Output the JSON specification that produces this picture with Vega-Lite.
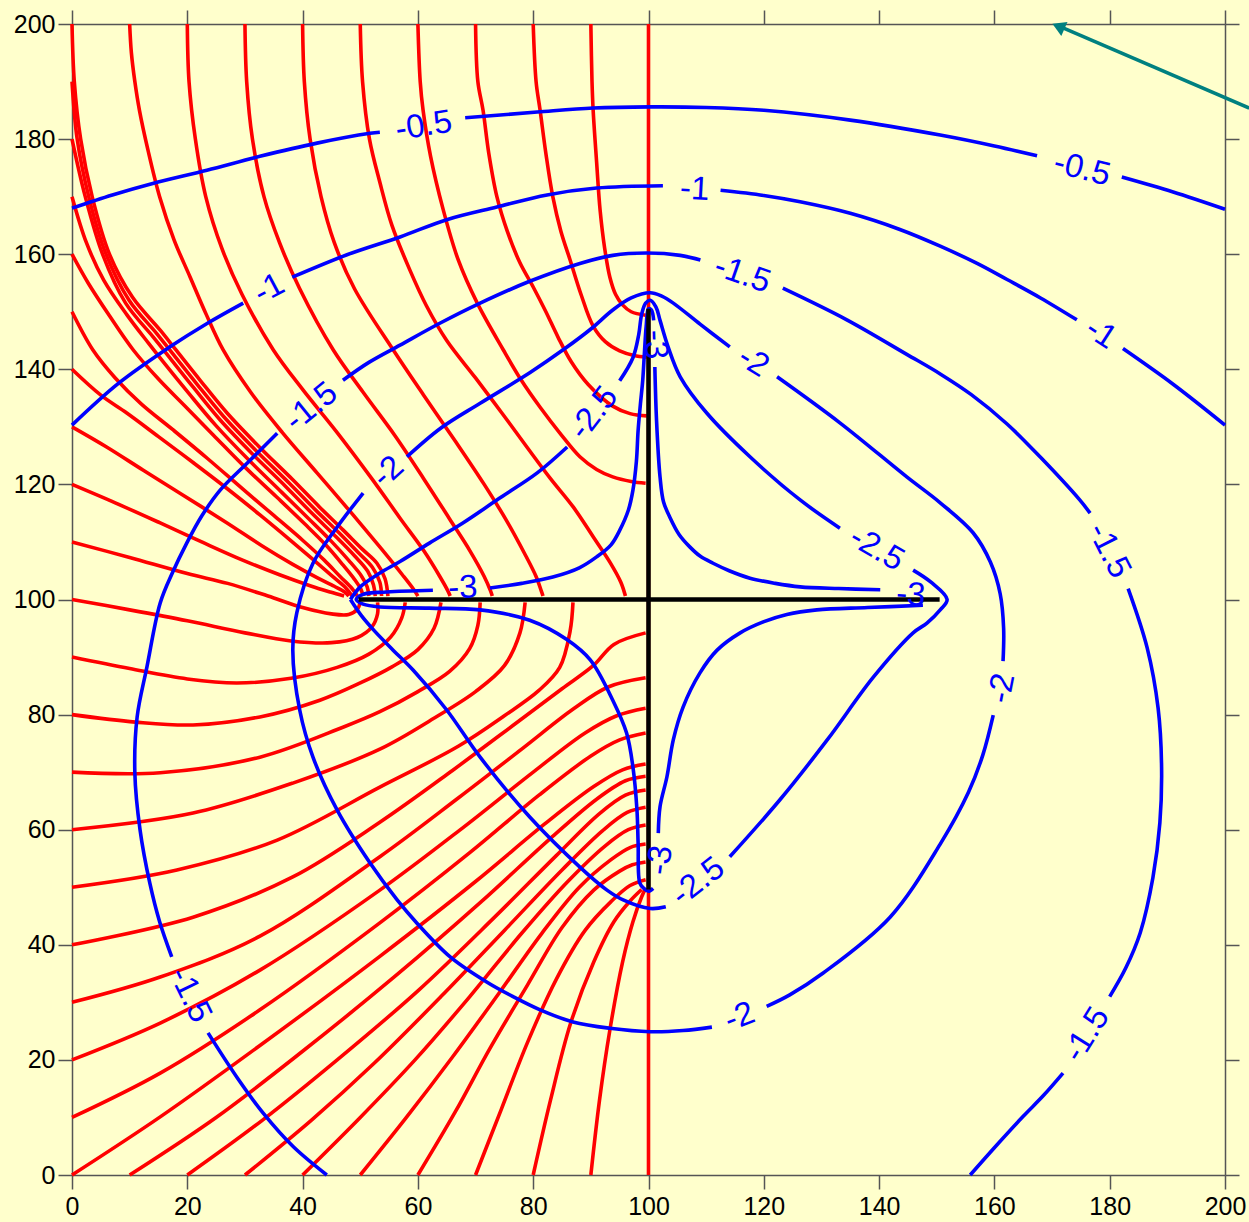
{
"$schema":"https://vega.github.io/schema/vega-lite/v6.json",
"width":1153,"height":1151,
"autosize":{"type":"none"},
"padding":{"left":72,"top":24,"right":24,"bottom":47},
"background":"#FFFFCC",
"config":{"view":{"stroke":null},"axis":{"domainColor":"#555555","domainWidth":1.5,"tickColor":"#555555","tickWidth":1.5,"tickSize":14,"labelFont":"Liberation Sans","labelFontSize":25,"labelColor":"#000000","grid":false}},
"datasets":{
"red":[
{"k":"v100","i":0,"x":100,"y":0},{"k":"v100","i":1,"x":100,"y":200},
{"k":"t0","i":0,"x":0,"y":200},{"k":"t0","i":1,"x":0.4,"y":190},{"k":"t0","i":2,"x":1.5,"y":180},{"k":"t0","i":3,"x":3.5,"y":170},{"k":"t0","i":4,"x":6.5,"y":160},{"k":"t0","i":5,"x":10.5,"y":152.5},{"k":"t0","i":6,"x":15.3,"y":146.8},{"k":"t0","i":7,"x":18,"y":143.4},{"k":"t0","i":8,"x":22.3,"y":138},{"k":"t0","i":9,"x":26.9,"y":132.4},{"k":"t0","i":10,"x":32.5,"y":126.5},{"k":"t0","i":11,"x":38.3,"y":120.8},{"k":"t0","i":12,"x":43,"y":116},{"k":"t0","i":13,"x":47,"y":112.1},{"k":"t0","i":14,"x":50.3,"y":108.8},{"k":"t0","i":15,"x":52.9,"y":106.3},{"k":"t0","i":16,"x":54.3,"y":103.6},{"k":"t0","i":17,"x":54.8,"y":100.6},
{"k":"l190","i":0,"x":0,"y":190},{"k":"l190","i":1,"x":0.9,"y":180},{"k":"l190","i":2,"x":2.9,"y":170},{"k":"l190","i":3,"x":5.9,"y":160},{"k":"l190","i":4,"x":9.9,"y":152},{"k":"l190","i":5,"x":14.7,"y":146.2},{"k":"l190","i":6,"x":17.4,"y":142.8},{"k":"l190","i":7,"x":21.7,"y":137.4},{"k":"l190","i":8,"x":26.3,"y":131.8},{"k":"l190","i":9,"x":31.9,"y":125.9},{"k":"l190","i":10,"x":37.7,"y":120.2},{"k":"l190","i":11,"x":42.4,"y":115.4},{"k":"l190","i":12,"x":46.4,"y":111.5},{"k":"l190","i":13,"x":49.6,"y":108.2},{"k":"l190","i":14,"x":52.1,"y":105.6},{"k":"l190","i":15,"x":53.4,"y":103},{"k":"l190","i":16,"x":53.7,"y":100.6},
{"k":"l180","i":0,"x":0,"y":180},{"k":"l180","i":1,"x":2.3,"y":170},{"k":"l180","i":2,"x":5.3,"y":160},{"k":"l180","i":3,"x":9.3,"y":151.5},{"k":"l180","i":4,"x":14.1,"y":145.6},{"k":"l180","i":5,"x":16.8,"y":142.2},{"k":"l180","i":6,"x":21.1,"y":136.8},{"k":"l180","i":7,"x":25.7,"y":131.2},{"k":"l180","i":8,"x":31.3,"y":125.3},{"k":"l180","i":9,"x":37.1,"y":119.6},{"k":"l180","i":10,"x":41.8,"y":114.8},{"k":"l180","i":11,"x":45.8,"y":110.9},{"k":"l180","i":12,"x":49,"y":107.6},{"k":"l180","i":13,"x":51.3,"y":104.9},{"k":"l180","i":14,"x":52.3,"y":102.5},{"k":"l180","i":15,"x":52.6,"y":100.6},
{"k":"l170","i":0,"x":0,"y":170},{"k":"l170","i":1,"x":2.5,"y":162},{"k":"l170","i":2,"x":5.5,"y":155.5},{"k":"l170","i":3,"x":9.5,"y":149.5},{"k":"l170","i":4,"x":13.3,"y":144.5},{"k":"l170","i":5,"x":15.9,"y":141.2},{"k":"l170","i":6,"x":20.2,"y":135.9},{"k":"l170","i":7,"x":24.9,"y":130.3},{"k":"l170","i":8,"x":30.5,"y":124.4},{"k":"l170","i":9,"x":36.3,"y":118.7},{"k":"l170","i":10,"x":41.1,"y":114},{"k":"l170","i":11,"x":45,"y":110.1},{"k":"l170","i":12,"x":48,"y":106.8},{"k":"l170","i":13,"x":50.2,"y":104.1},{"k":"l170","i":14,"x":51.2,"y":102.2},{"k":"l170","i":15,"x":51.5,"y":100.6},
{"k":"l160","i":0,"x":0,"y":160},{"k":"l160","i":1,"x":2.8,"y":155},{"k":"l160","i":2,"x":6.5,"y":149.3},{"k":"l160","i":3,"x":10.6,"y":143.4},{"k":"l160","i":4,"x":15,"y":138.3},{"k":"l160","i":5,"x":19.5,"y":133.7},{"k":"l160","i":6,"x":24.5,"y":128.6},{"k":"l160","i":7,"x":30,"y":123},{"k":"l160","i":8,"x":35.5,"y":117.8},{"k":"l160","i":9,"x":40.3,"y":113.2},{"k":"l160","i":10,"x":44,"y":109.5},{"k":"l160","i":11,"x":47,"y":106},{"k":"l160","i":12,"x":49,"y":103.5},{"k":"l160","i":13,"x":50.1,"y":101.8},{"k":"l160","i":14,"x":50.5,"y":100.6},
{"k":"l150","i":0,"x":0,"y":150},{"k":"l150","i":1,"x":3.6,"y":143.4},{"k":"l150","i":2,"x":7.5,"y":138.5},{"k":"l150","i":3,"x":12,"y":134},{"k":"l150","i":4,"x":17.5,"y":129.5},{"k":"l150","i":5,"x":23.5,"y":124.5},{"k":"l150","i":6,"x":29.5,"y":119.3},{"k":"l150","i":7,"x":35,"y":114.6},{"k":"l150","i":8,"x":40,"y":110.3},{"k":"l150","i":9,"x":43.8,"y":106.8},{"k":"l150","i":10,"x":46.5,"y":104},{"k":"l150","i":11,"x":48.5,"y":102},{"k":"l150","i":12,"x":49.5,"y":100.6},
{"k":"l140","i":0,"x":0,"y":140},{"k":"l140","i":1,"x":5,"y":135.5},{"k":"l140","i":2,"x":9.5,"y":132.4},{"k":"l140","i":3,"x":15,"y":128.3},{"k":"l140","i":4,"x":21,"y":123.8},{"k":"l140","i":5,"x":27,"y":119.2},{"k":"l140","i":6,"x":32.6,"y":114.7},{"k":"l140","i":7,"x":38,"y":110.2},{"k":"l140","i":8,"x":42,"y":106.8},{"k":"l140","i":9,"x":45.2,"y":104},{"k":"l140","i":10,"x":47.5,"y":102},{"k":"l140","i":11,"x":48.6,"y":100.6},
{"k":"l130","i":0,"x":0,"y":130},{"k":"l130","i":1,"x":6,"y":126.5},{"k":"l130","i":2,"x":12.3,"y":122.5},{"k":"l130","i":3,"x":19,"y":118.3},{"k":"l130","i":4,"x":26.9,"y":113.3},{"k":"l130","i":5,"x":33,"y":109.3},{"k":"l130","i":6,"x":38.3,"y":106.1},{"k":"l130","i":7,"x":42.5,"y":103.8},{"k":"l130","i":8,"x":45.5,"y":102.3},{"k":"l130","i":9,"x":47.3,"y":101.3},{"k":"l130","i":10,"x":48,"y":100.6},
{"k":"l120","i":0,"x":0,"y":120},{"k":"l120","i":1,"x":7.5,"y":116.8},{"k":"l120","i":2,"x":15.3,"y":113.3},{"k":"l120","i":3,"x":22.5,"y":110},{"k":"l120","i":4,"x":29.7,"y":106.8},{"k":"l120","i":5,"x":36,"y":104.3},{"k":"l120","i":6,"x":41.3,"y":102.4},{"k":"l120","i":7,"x":44.8,"y":101.3},{"k":"l120","i":8,"x":47.2,"y":100.6},
{"k":"l110","i":0,"x":0,"y":110},{"k":"l110","i":1,"x":10,"y":107.3},{"k":"l110","i":2,"x":20,"y":104.5},{"k":"l110","i":3,"x":27,"y":102.8},{"k":"l110","i":4,"x":34,"y":100.6},{"k":"l110","i":5,"x":40,"y":98.6},{"k":"l110","i":6,"x":45,"y":97.5},{"k":"l110","i":7,"x":48,"y":97.4},{"k":"l110","i":8,"x":49.5,"y":98.3},{"k":"l110","i":9,"x":50,"y":99.6},
{"k":"l100","i":0,"x":0,"y":100},{"k":"l100","i":1,"x":10,"y":98.2},{"k":"l100","i":2,"x":20,"y":96.3},{"k":"l100","i":3,"x":30,"y":94.2},{"k":"l100","i":4,"x":38,"y":92.8},{"k":"l100","i":5,"x":45,"y":92.5},{"k":"l100","i":6,"x":49.5,"y":93.4},{"k":"l100","i":7,"x":52,"y":95.2},{"k":"l100","i":8,"x":53,"y":97.5},{"k":"l100","i":9,"x":53,"y":99.5},
{"k":"l90","i":0,"x":0,"y":90},{"k":"l90","i":1,"x":10,"y":88},{"k":"l90","i":2,"x":20,"y":86.2},{"k":"l90","i":3,"x":28.6,"y":85.5},{"k":"l90","i":4,"x":38,"y":86.3},{"k":"l90","i":5,"x":46,"y":88.2},{"k":"l90","i":6,"x":51.5,"y":90.5},{"k":"l90","i":7,"x":55.3,"y":93.5},{"k":"l90","i":8,"x":57.2,"y":96.8},{"k":"l90","i":9,"x":57.8,"y":99.5},
{"k":"l80","i":0,"x":0,"y":80},{"k":"l80","i":1,"x":11,"y":78.7},{"k":"l80","i":2,"x":21,"y":78.2},{"k":"l80","i":3,"x":32.6,"y":79.6},{"k":"l80","i":4,"x":43,"y":82.5},{"k":"l80","i":5,"x":50,"y":85.5},{"k":"l80","i":6,"x":55.5,"y":88.3},{"k":"l80","i":7,"x":60,"y":91.3},{"k":"l80","i":8,"x":62.8,"y":95},{"k":"l80","i":9,"x":64,"y":99.5},
{"k":"l70","i":0,"x":0,"y":70},{"k":"l70","i":1,"x":15.3,"y":69.9},{"k":"l70","i":2,"x":32.6,"y":72.6},{"k":"l70","i":3,"x":47,"y":77.8},{"k":"l70","i":4,"x":53.4,"y":80.5},{"k":"l70","i":5,"x":60,"y":84},{"k":"l70","i":6,"x":65.5,"y":87.5},{"k":"l70","i":7,"x":69,"y":91.5},{"k":"l70","i":8,"x":70.4,"y":95.5},{"k":"l70","i":9,"x":70.8,"y":99.5},
{"k":"l60","i":0,"x":0,"y":60},{"k":"l60","i":1,"x":21,"y":62.9},{"k":"l60","i":2,"x":38.3,"y":68.1},{"k":"l60","i":3,"x":53.4,"y":74},{"k":"l60","i":4,"x":63,"y":79.5},{"k":"l60","i":5,"x":70,"y":84},{"k":"l60","i":6,"x":75,"y":88.5},{"k":"l60","i":7,"x":77.7,"y":94.2},{"k":"l60","i":8,"x":78.6,"y":99.5},
{"k":"l50","i":0,"x":0,"y":50},{"k":"l50","i":1,"x":18.2,"y":53},{"k":"l50","i":2,"x":35.6,"y":58.2},{"k":"l50","i":3,"x":53.4,"y":67.4},{"k":"l50","i":4,"x":67,"y":74.5},{"k":"l50","i":5,"x":75,"y":79.8},{"k":"l50","i":6,"x":81,"y":84.2},{"k":"l50","i":7,"x":84.6,"y":88.2},{"k":"l50","i":8,"x":86.4,"y":94.5},{"k":"l50","i":9,"x":86.9,"y":99.5},
{"k":"l40","i":0,"x":0,"y":40},{"k":"l40","i":1,"x":21,"y":44.8},{"k":"l40","i":2,"x":38.3,"y":51.8},{"k":"l40","i":3,"x":53.4,"y":61.3},{"k":"l40","i":4,"x":66,"y":70.3},{"k":"l40","i":5,"x":77,"y":78.5},{"k":"l40","i":6,"x":85,"y":84.5},{"k":"l40","i":7,"x":90.4,"y":88.5},{"k":"l40","i":8,"x":94,"y":92.2},{"k":"l40","i":9,"x":99.5,"y":94.2},
{"k":"l30","i":0,"x":0,"y":30},{"k":"l30","i":1,"x":15.3,"y":34.4},{"k":"l30","i":2,"x":32.6,"y":41.5},{"k":"l30","i":3,"x":53.4,"y":55.3},{"k":"l30","i":4,"x":67,"y":65.5},{"k":"l30","i":5,"x":78,"y":74},{"k":"l30","i":6,"x":87,"y":81},{"k":"l30","i":7,"x":93,"y":84.8},{"k":"l30","i":8,"x":99.5,"y":86.4},
{"k":"l20","i":0,"x":0,"y":20},{"k":"l20","i":1,"x":15.3,"y":26.4},{"k":"l20","i":2,"x":32.6,"y":35.6},{"k":"l20","i":3,"x":53.4,"y":49.5},{"k":"l20","i":4,"x":68,"y":60.5},{"k":"l20","i":5,"x":80,"y":70},{"k":"l20","i":6,"x":89,"y":76.8},{"k":"l20","i":7,"x":94.5,"y":79.8},{"k":"l20","i":8,"x":99.5,"y":81.1},
{"k":"l10","i":0,"x":0,"y":10},{"k":"l10","i":1,"x":15.3,"y":17.7},{"k":"l10","i":2,"x":32.6,"y":28.7},{"k":"l10","i":3,"x":53.4,"y":43.8},{"k":"l10","i":4,"x":69,"y":56},{"k":"l10","i":5,"x":81,"y":66},{"k":"l10","i":6,"x":90,"y":72.8},{"k":"l10","i":7,"x":95,"y":75.6},{"k":"l10","i":8,"x":99.5,"y":76.8},
{"k":"l0","i":0,"x":0,"y":0},{"k":"l0","i":1,"x":15.3,"y":10.1},{"k":"l0","i":2,"x":32.6,"y":22.5},{"k":"l0","i":3,"x":53.4,"y":38},{"k":"l0","i":4,"x":70,"y":51},{"k":"l0","i":5,"x":82,"y":61},{"k":"l0","i":6,"x":90.5,"y":67.5},{"k":"l0","i":7,"x":95.5,"y":70.4},{"k":"l0","i":8,"x":99.5,"y":71.4},
{"k":"b10","i":0,"x":10,"y":0},{"k":"b10","i":1,"x":25,"y":10},{"k":"b10","i":2,"x":40,"y":21.5},{"k":"b10","i":3,"x":56,"y":34.5},{"k":"b10","i":4,"x":71,"y":47.5},{"k":"b10","i":5,"x":83,"y":58.5},{"k":"b10","i":6,"x":91,"y":65.3},{"k":"b10","i":7,"x":96,"y":68.5},{"k":"b10","i":8,"x":99.5,"y":69.3},
{"k":"b20","i":0,"x":20,"y":0},{"k":"b20","i":1,"x":33,"y":9.5},{"k":"b20","i":2,"x":46,"y":20},{"k":"b20","i":3,"x":60,"y":32},{"k":"b20","i":4,"x":73,"y":44.5},{"k":"b20","i":5,"x":84,"y":55.5},{"k":"b20","i":6,"x":91.5,"y":62.8},{"k":"b20","i":7,"x":96,"y":66},{"k":"b20","i":8,"x":99.5,"y":66.9},
{"k":"b30","i":0,"x":30,"y":0},{"k":"b30","i":1,"x":41.5,"y":9.5},{"k":"b30","i":2,"x":52.5,"y":19.5},{"k":"b30","i":3,"x":64,"y":31},{"k":"b30","i":4,"x":75,"y":42.5},{"k":"b30","i":5,"x":85,"y":53},{"k":"b30","i":6,"x":92,"y":59.8},{"k":"b30","i":7,"x":96.3,"y":63},{"k":"b30","i":8,"x":99.5,"y":63.9},
{"k":"b40","i":0,"x":40,"y":0},{"k":"b40","i":1,"x":50,"y":10},{"k":"b40","i":2,"x":59.5,"y":20},{"k":"b40","i":3,"x":69,"y":31},{"k":"b40","i":4,"x":78,"y":42},{"k":"b40","i":5,"x":86,"y":51},{"k":"b40","i":6,"x":92.5,"y":57.2},{"k":"b40","i":7,"x":96.5,"y":60},{"k":"b40","i":8,"x":99.5,"y":60.8},
{"k":"b50","i":0,"x":50,"y":0},{"k":"b50","i":1,"x":58,"y":10},{"k":"b50","i":2,"x":66,"y":20.5},{"k":"b50","i":3,"x":74,"y":31.5},{"k":"b50","i":4,"x":81.5,"y":42},{"k":"b50","i":5,"x":88,"y":50},{"k":"b50","i":6,"x":93.5,"y":54.8},{"k":"b50","i":7,"x":96.8,"y":56.9},{"k":"b50","i":8,"x":99.5,"y":57.5},
{"k":"b60","i":0,"x":60,"y":0},{"k":"b60","i":1,"x":66.5,"y":11},{"k":"b60","i":2,"x":72.5,"y":22},{"k":"b60","i":3,"x":79,"y":33},{"k":"b60","i":4,"x":85,"y":43},{"k":"b60","i":5,"x":90.5,"y":49.5},{"k":"b60","i":6,"x":95,"y":52.8},{"k":"b60","i":7,"x":97.2,"y":53.9},{"k":"b60","i":8,"x":99.5,"y":54.4},
{"k":"b70","i":0,"x":70,"y":0},{"k":"b70","i":1,"x":74.5,"y":11.5},{"k":"b70","i":2,"x":79,"y":23},{"k":"b70","i":3,"x":84,"y":34},{"k":"b70","i":4,"x":89,"y":42.5},{"k":"b70","i":5,"x":93.5,"y":47.5},{"k":"b70","i":6,"x":96.8,"y":50.3},{"k":"b70","i":7,"x":99.5,"y":51.3},
{"k":"b80","i":0,"x":80,"y":0},{"k":"b80","i":1,"x":83,"y":13},{"k":"b80","i":2,"x":86.5,"y":26.4},{"k":"b80","i":3,"x":90.5,"y":37},{"k":"b80","i":4,"x":94,"y":44},{"k":"b80","i":5,"x":96.8,"y":47.6},{"k":"b80","i":6,"x":98.8,"y":49.6},
{"k":"b90","i":0,"x":90,"y":0},{"k":"b90","i":1,"x":91.5,"y":13},{"k":"b90","i":2,"x":93.3,"y":25.2},{"k":"b90","i":3,"x":95.5,"y":37},{"k":"b90","i":4,"x":97.3,"y":44},{"k":"b90","i":5,"x":98.8,"y":48.3},{"k":"b90","i":6,"x":99.5,"y":49.8},
{"k":"t10","i":0,"x":10,"y":200},{"k":"t10","i":1,"x":10.3,"y":195},{"k":"t10","i":2,"x":10.9,"y":190},{"k":"t10","i":3,"x":11.7,"y":185},{"k":"t10","i":4,"x":13.2,"y":178},{"k":"t10","i":5,"x":15.2,"y":170},{"k":"t10","i":6,"x":17.7,"y":162.5},{"k":"t10","i":7,"x":20.5,"y":156},{"k":"t10","i":8,"x":23.3,"y":149.5},{"k":"t10","i":9,"x":26.2,"y":143.4},{"k":"t10","i":10,"x":31,"y":136},{"k":"t10","i":11,"x":36.5,"y":129},{"k":"t10","i":12,"x":42.5,"y":122},{"k":"t10","i":13,"x":48.5,"y":115},{"k":"t10","i":14,"x":53.5,"y":109},{"k":"t10","i":15,"x":57.3,"y":104.3},{"k":"t10","i":16,"x":59.3,"y":101.7},{"k":"t10","i":17,"x":60,"y":100.6},
{"k":"t20","i":0,"x":20,"y":200},{"k":"t20","i":1,"x":20.3,"y":190},{"k":"t20","i":2,"x":21.4,"y":180},{"k":"t20","i":3,"x":23.2,"y":170},{"k":"t20","i":4,"x":26,"y":161},{"k":"t20","i":5,"x":29.5,"y":153},{"k":"t20","i":6,"x":34.9,"y":143.4},{"k":"t20","i":7,"x":40,"y":136.5},{"k":"t20","i":8,"x":46,"y":129},{"k":"t20","i":9,"x":52,"y":121},{"k":"t20","i":10,"x":57,"y":114},{"k":"t20","i":11,"x":61,"y":108.5},{"k":"t20","i":12,"x":63.8,"y":104},{"k":"t20","i":13,"x":65.2,"y":101.5},{"k":"t20","i":14,"x":65.6,"y":100.6},
{"k":"t30","i":0,"x":30,"y":200},{"k":"t30","i":1,"x":30.3,"y":190},{"k":"t30","i":2,"x":31.3,"y":180},{"k":"t30","i":3,"x":33.3,"y":170},{"k":"t30","i":4,"x":36,"y":162},{"k":"t30","i":5,"x":39.5,"y":154},{"k":"t30","i":6,"x":45.3,"y":143.4},{"k":"t30","i":7,"x":50.5,"y":136},{"k":"t30","i":8,"x":56,"y":128.5},{"k":"t30","i":9,"x":61,"y":121},{"k":"t30","i":10,"x":65.5,"y":114},{"k":"t30","i":11,"x":69,"y":108.5},{"k":"t30","i":12,"x":71.5,"y":104},{"k":"t30","i":13,"x":72.6,"y":101.5},{"k":"t30","i":14,"x":72.9,"y":100.6},
{"k":"t40","i":0,"x":40,"y":200},{"k":"t40","i":1,"x":40.3,"y":190},{"k":"t40","i":2,"x":41.3,"y":180},{"k":"t40","i":3,"x":43.2,"y":170},{"k":"t40","i":4,"x":45.5,"y":162},{"k":"t40","i":5,"x":49,"y":154},{"k":"t40","i":6,"x":55.7,"y":143.4},{"k":"t40","i":7,"x":61,"y":135.5},{"k":"t40","i":8,"x":66.5,"y":127.5},{"k":"t40","i":9,"x":71.5,"y":120},{"k":"t40","i":10,"x":75.5,"y":113.5},{"k":"t40","i":11,"x":78.5,"y":108},{"k":"t40","i":12,"x":80.5,"y":104},{"k":"t40","i":13,"x":81.4,"y":101.5},{"k":"t40","i":14,"x":81.7,"y":100.6},
{"k":"t50","i":0,"x":50,"y":200},{"k":"t50","i":1,"x":50.4,"y":190},{"k":"t50","i":2,"x":51.6,"y":180},{"k":"t50","i":3,"x":53.4,"y":172.5},{"k":"t50","i":4,"x":55.5,"y":165},{"k":"t50","i":5,"x":58.5,"y":157.5},{"k":"t50","i":6,"x":61.5,"y":151},{"k":"t50","i":7,"x":65,"y":145},{"k":"t50","i":8,"x":70,"y":138.5},{"k":"t50","i":9,"x":74.5,"y":132.5},{"k":"t50","i":10,"x":78.9,"y":126.5},{"k":"t50","i":11,"x":83,"y":121},{"k":"t50","i":12,"x":87,"y":116},{"k":"t50","i":13,"x":90.4,"y":110.9},{"k":"t50","i":14,"x":93.3,"y":106.5},{"k":"t50","i":15,"x":95.2,"y":103},{"k":"t50","i":16,"x":96,"y":100.6},
{"k":"t60","i":0,"x":60,"y":200},{"k":"t60","i":1,"x":60.4,"y":190},{"k":"t60","i":2,"x":60.9,"y":185},{"k":"t60","i":3,"x":62.2,"y":177},{"k":"t60","i":4,"x":64.4,"y":167.7},{"k":"t60","i":5,"x":67,"y":159},{"k":"t60","i":6,"x":70.3,"y":151.5},{"k":"t60","i":7,"x":74.8,"y":143.4},{"k":"t60","i":8,"x":78,"y":138},{"k":"t60","i":9,"x":81.2,"y":133.4},{"k":"t60","i":10,"x":84.8,"y":128.7},{"k":"t60","i":11,"x":88.1,"y":124.8},{"k":"t60","i":12,"x":91,"y":122.6},{"k":"t60","i":13,"x":93.8,"y":121.3},{"k":"t60","i":14,"x":97,"y":120.5},{"k":"t60","i":15,"x":99.5,"y":120.2},
{"k":"t70","i":0,"x":70,"y":200},{"k":"t70","i":1,"x":70.4,"y":190},{"k":"t70","i":2,"x":71.3,"y":185},{"k":"t70","i":3,"x":72.3,"y":177.5},{"k":"t70","i":4,"x":73.7,"y":170},{"k":"t70","i":5,"x":75.5,"y":164},{"k":"t70","i":6,"x":77.7,"y":158.5},{"k":"t70","i":7,"x":80,"y":154.3},{"k":"t70","i":8,"x":82.2,"y":150},{"k":"t70","i":9,"x":84.3,"y":145.6},{"k":"t70","i":10,"x":86.6,"y":141.3},{"k":"t70","i":11,"x":89.5,"y":137.4},{"k":"t70","i":12,"x":93.8,"y":133.6},{"k":"t70","i":13,"x":96.8,"y":132.3},{"k":"t70","i":14,"x":99.7,"y":131.9},
{"k":"t80","i":0,"x":80,"y":200},{"k":"t80","i":1,"x":80.5,"y":190},{"k":"t80","i":2,"x":81.2,"y":185},{"k":"t80","i":3,"x":82.2,"y":177.5},{"k":"t80","i":4,"x":83.4,"y":170},{"k":"t80","i":5,"x":84.8,"y":164},{"k":"t80","i":6,"x":86.4,"y":159},{"k":"t80","i":7,"x":88.3,"y":153},{"k":"t80","i":8,"x":90.4,"y":147.5},{"k":"t80","i":9,"x":92.5,"y":144.8},{"k":"t80","i":10,"x":95,"y":143.2},{"k":"t80","i":11,"x":97.5,"y":142.4},{"k":"t80","i":12,"x":99.7,"y":142.1},
{"k":"t90","i":0,"x":90,"y":200},{"k":"t90","i":1,"x":90.2,"y":190},{"k":"t90","i":2,"x":90.4,"y":185},{"k":"t90","i":3,"x":91,"y":176},{"k":"t90","i":4,"x":91.6,"y":167.7},{"k":"t90","i":5,"x":92.4,"y":161},{"k":"t90","i":6,"x":93.3,"y":156},{"k":"t90","i":7,"x":94.3,"y":153},{"k":"t90","i":8,"x":95.5,"y":151.2},{"k":"t90","i":9,"x":97,"y":150},{"k":"t90","i":10,"x":99.5,"y":149.4}
],
"blue":[
{"k":"05a","i":0,"x":0,"y":168},{"k":"05a","i":1,"x":7,"y":170.3},{"k":"05a","i":2,"x":14,"y":172.3},{"k":"05a","i":3,"x":23.4,"y":174.6},{"k":"05a","i":4,"x":32.6,"y":177},{"k":"05a","i":5,"x":42.5,"y":179.3},{"k":"05a","i":6,"x":51.7,"y":181},{"k":"05a","i":7,"x":53.4,"y":181.2},
{"k":"05b","i":0,"x":68.2,"y":183.7},{"k":"05b","i":1,"x":80.7,"y":184.7},{"k":"05b","i":2,"x":90.4,"y":185.4},{"k":"05b","i":3,"x":100.3,"y":185.6},{"k":"05b","i":4,"x":110,"y":185.5},{"k":"05b","i":5,"x":120,"y":185},{"k":"05b","i":6,"x":135,"y":183.3},{"k":"05b","i":7,"x":150.6,"y":180.7},{"k":"05b","i":8,"x":160,"y":178.8},{"k":"05b","i":9,"x":167.4,"y":177.1},
{"k":"05c","i":0,"x":182.1,"y":173.4},{"k":"05c","i":1,"x":191,"y":170.8},{"k":"05c","i":2,"x":200,"y":167.8},
{"k":"1a","i":0,"x":0,"y":130.3},{"k":"1a","i":1,"x":8,"y":137.5},{"k":"1a","i":2,"x":17,"y":143.9},{"k":"1a","i":3,"x":23.5,"y":148},{"k":"1a","i":4,"x":29.7,"y":151.5},
{"k":"1b","i":0,"x":38.2,"y":156},{"k":"1b","i":1,"x":47.7,"y":159.9},{"k":"1b","i":2,"x":56.9,"y":163},{"k":"1b","i":3,"x":65,"y":166},{"k":"1b","i":4,"x":73.7,"y":168.2},{"k":"1b","i":5,"x":82.4,"y":170.3},{"k":"1b","i":6,"x":91,"y":171.5},{"k":"1b","i":7,"x":102.5,"y":171.9},
{"k":"1c","i":0,"x":112.5,"y":171.1},{"k":"1c","i":1,"x":120,"y":170.2},{"k":"1c","i":2,"x":126.3,"y":169.1},{"k":"1c","i":3,"x":135,"y":167.1},{"k":"1c","i":4,"x":143.6,"y":164.3},{"k":"1c","i":5,"x":150.6,"y":161.4},{"k":"1c","i":6,"x":157,"y":158.4},{"k":"1c","i":7,"x":162.2,"y":155.6},{"k":"1c","i":8,"x":168,"y":152.4},{"k":"1c","i":9,"x":174.3,"y":148.6},
{"k":"1d","i":0,"x":182.3,"y":143.6},{"k":"1d","i":1,"x":191,"y":137.4},{"k":"1d","i":2,"x":200,"y":130.3},
{"k":"15a","i":0,"x":47,"y":138.1},{"k":"15a","i":1,"x":51.5,"y":141.2},{"k":"15a","i":2,"x":56.9,"y":144.2},{"k":"15a","i":3,"x":63.8,"y":148},{"k":"15a","i":4,"x":70.8,"y":151.5},{"k":"15a","i":5,"x":79.4,"y":155.3},{"k":"15a","i":6,"x":88.1,"y":158.4},{"k":"15a","i":7,"x":93.8,"y":159.8},{"k":"15a","i":8,"x":99.7,"y":160.2},{"k":"15a","i":9,"x":105.5,"y":159.8},{"k":"15a","i":10,"x":109,"y":159},
{"k":"15b","i":0,"x":123.3,"y":154.1},{"k":"15b","i":1,"x":134.4,"y":148.6},{"k":"15b","i":2,"x":144.8,"y":142.6},{"k":"15b","i":3,"x":150.6,"y":139.2},{"k":"15b","i":4,"x":156,"y":135.6},{"k":"15b","i":5,"x":162.2,"y":130.5},{"k":"15b","i":6,"x":168,"y":124.7},{"k":"15b","i":7,"x":174.8,"y":117.3},{"k":"15b","i":8,"x":176.6,"y":115},
{"k":"15c","i":0,"x":183.2,"y":101.9},{"k":"15c","i":1,"x":186.5,"y":91.6},{"k":"15c","i":2,"x":188.4,"y":81.1},{"k":"15c","i":3,"x":189,"y":70.8},{"k":"15c","i":4,"x":188.7,"y":61.2},{"k":"15c","i":5,"x":187.5,"y":51.7},{"k":"15c","i":6,"x":185.3,"y":42.1},{"k":"15c","i":7,"x":182.8,"y":36},{"k":"15c","i":8,"x":180,"y":31},
{"k":"15d","i":0,"x":171.9,"y":17.7},{"k":"15d","i":1,"x":168.5,"y":13.8},{"k":"15d","i":2,"x":165,"y":10.2},{"k":"15d","i":3,"x":160.5,"y":5.3},{"k":"15d","i":4,"x":155.8,"y":0},
{"k":"15e","i":0,"x":35.6,"y":128.9},{"k":"15e","i":1,"x":30.5,"y":123.8},{"k":"15e","i":2,"x":25.7,"y":119},{"k":"15e","i":3,"x":22.5,"y":114.5},{"k":"15e","i":4,"x":19.9,"y":109.8},{"k":"15e","i":5,"x":17.4,"y":104.6},{"k":"15e","i":6,"x":15.3,"y":99.4},{"k":"15e","i":7,"x":13,"y":88.3},{"k":"15e","i":8,"x":11.3,"y":79.6},{"k":"15e","i":9,"x":10.9,"y":69.9},{"k":"15e","i":10,"x":11.8,"y":60},{"k":"15e","i":11,"x":13.5,"y":50.7},{"k":"15e","i":12,"x":15.2,"y":44},{"k":"15e","i":13,"x":17.3,"y":37.9},
{"k":"15f","i":0,"x":23.6,"y":24.7},{"k":"15f","i":1,"x":28.6,"y":17},{"k":"15f","i":2,"x":33.2,"y":10.7},{"k":"15f","i":3,"x":38.4,"y":4.9},{"k":"15f","i":4,"x":44.2,"y":0},
{"k":"2a","i":0,"x":58.1,"y":124.8},{"k":"2a","i":1,"x":64,"y":129.8},{"k":"2a","i":2,"x":70.8,"y":134.1},{"k":"2a","i":3,"x":79.4,"y":139.4},{"k":"2a","i":4,"x":85.5,"y":143.6},{"k":"2a","i":5,"x":90,"y":147},{"k":"2a","i":6,"x":93.8,"y":150.3},{"k":"2a","i":7,"x":97,"y":152.4},{"k":"2a","i":8,"x":100.3,"y":153.3},{"k":"2a","i":9,"x":102.3,"y":152.7},{"k":"2a","i":10,"x":104.3,"y":151.5},{"k":"2a","i":11,"x":109,"y":147.8},{"k":"2a","i":12,"x":114.1,"y":143.9},
{"k":"2b","i":0,"x":122.3,"y":138.7},{"k":"2b","i":1,"x":133.2,"y":130.7},{"k":"2b","i":2,"x":144.8,"y":121.3},{"k":"2b","i":3,"x":150.6,"y":116.8},{"k":"2b","i":4,"x":156.3,"y":111.6},{"k":"2b","i":5,"x":159.3,"y":106.5},{"k":"2b","i":6,"x":161,"y":101},{"k":"2b","i":7,"x":161.6,"y":95},{"k":"2b","i":8,"x":161.5,"y":89.3},
{"k":"2c","i":0,"x":159.8,"y":79.9},{"k":"2c","i":1,"x":158,"y":73},{"k":"2c","i":2,"x":155.5,"y":66.5},{"k":"2c","i":3,"x":150.6,"y":57.5},{"k":"2c","i":4,"x":141.9,"y":44.8},{"k":"2c","i":5,"x":130.3,"y":35.1},{"k":"2c","i":6,"x":124.5,"y":31.3},{"k":"2c","i":7,"x":120.5,"y":29.3},
{"k":"2d","i":0,"x":111,"y":25.7},{"k":"2d","i":1,"x":106,"y":25.1},{"k":"2d","i":2,"x":100.3,"y":24.9},{"k":"2d","i":3,"x":93.3,"y":25.5},{"k":"2d","i":4,"x":86.9,"y":26.6},{"k":"2d","i":5,"x":81.2,"y":28.7},{"k":"2d","i":6,"x":76.5,"y":31},{"k":"2d","i":7,"x":72,"y":33.5},{"k":"2d","i":8,"x":65.6,"y":37.9},{"k":"2d","i":9,"x":59.8,"y":43.8},{"k":"2d","i":10,"x":56.4,"y":47.8},{"k":"2d","i":11,"x":51.7,"y":54.2},{"k":"2d","i":12,"x":46,"y":63.4},{"k":"2d","i":13,"x":41.8,"y":72.6},{"k":"2d","i":14,"x":39.5,"y":80.8},{"k":"2d","i":15,"x":38.3,"y":91.2},{"k":"2d","i":16,"x":39,"y":97.7},{"k":"2d","i":17,"x":41.8,"y":106.3},{"k":"2d","i":18,"x":46,"y":112.6},{"k":"2d","i":19,"x":50.5,"y":118.5},
{"k":"25a","i":0,"x":48.3,"y":100},{"k":"25a","i":1,"x":50,"y":102.2},{"k":"25a","i":2,"x":53.4,"y":104.6},{"k":"25a","i":3,"x":56.9,"y":106.6},{"k":"25a","i":4,"x":62,"y":109.8},{"k":"25a","i":5,"x":67.8,"y":113.3},{"k":"25a","i":6,"x":74,"y":117.5},{"k":"25a","i":7,"x":80.7,"y":122},{"k":"25a","i":8,"x":85.9,"y":126.5},
{"k":"25b","i":0,"x":95,"y":138},{"k":"25b","i":1,"x":97.3,"y":142},{"k":"25b","i":2,"x":98.3,"y":146},{"k":"25b","i":3,"x":98.8,"y":149.5},{"k":"25b","i":4,"x":99.5,"y":151.5},{"k":"25b","i":5,"x":100.3,"y":152},{"k":"25b","i":6,"x":101.3,"y":150.8},{"k":"25b","i":7,"x":102,"y":148.5},{"k":"25b","i":8,"x":103.4,"y":143.9},{"k":"25b","i":9,"x":105.5,"y":138.7},{"k":"25b","i":10,"x":110.1,"y":132.4},{"k":"25b","i":11,"x":117.6,"y":124.8},{"k":"25b","i":12,"x":126.3,"y":117.3},{"k":"25b","i":13,"x":133.2,"y":112.4},
{"k":"25c","i":0,"x":145.9,"y":105.1},{"k":"25c","i":1,"x":149,"y":103},{"k":"25c","i":2,"x":151.8,"y":100},{"k":"25c","i":3,"x":150.6,"y":98.2},{"k":"25c","i":4,"x":148.3,"y":95.9},{"k":"25c","i":5,"x":145.9,"y":94.2},{"k":"25c","i":6,"x":139,"y":86.5},{"k":"25c","i":7,"x":131,"y":75.6},{"k":"25c","i":8,"x":122.8,"y":65.2},{"k":"25c","i":9,"x":114.1,"y":55.3},
{"k":"25d","i":0,"x":103,"y":46.6},{"k":"25d","i":1,"x":100.3,"y":46.3},{"k":"25d","i":2,"x":95.6,"y":47.8},{"k":"25d","i":3,"x":92.8,"y":49.5},{"k":"25d","i":4,"x":88.1,"y":53.5},{"k":"25d","i":5,"x":79.4,"y":62.2},{"k":"25d","i":6,"x":70.8,"y":72.6},{"k":"25d","i":7,"x":65,"y":80.8},{"k":"25d","i":8,"x":59.2,"y":87.7},{"k":"25d","i":9,"x":55.7,"y":91.2},{"k":"25d","i":10,"x":52.5,"y":94.5},{"k":"25d","i":11,"x":50.2,"y":97.2},{"k":"25d","i":12,"x":48.3,"y":100},
{"k":"3a","i":0,"x":72.5,"y":102},{"k":"3a","i":1,"x":78,"y":102.8},{"k":"3a","i":2,"x":83.4,"y":103.9},{"k":"3a","i":3,"x":88,"y":105.5},{"k":"3a","i":4,"x":91,"y":107.4},{"k":"3a","i":5,"x":93.5,"y":109.5},{"k":"3a","i":6,"x":95,"y":112},{"k":"3a","i":7,"x":96.5,"y":115.5},{"k":"3a","i":8,"x":97.3,"y":119},{"k":"3a","i":9,"x":97.9,"y":124},{"k":"3a","i":10,"x":98.2,"y":129.4},{"k":"3a","i":11,"x":98.6,"y":134},{"k":"3a","i":12,"x":99,"y":138.1},{"k":"3a","i":13,"x":99.3,"y":143},{"k":"3a","i":14,"x":99.6,"y":147.5},{"k":"3a","i":15,"x":100,"y":150.5},{"k":"3a","i":16,"x":100.5,"y":150.3},{"k":"3a","i":17,"x":100.9,"y":148.5},
{"k":"3b","i":0,"x":101.1,"y":140.4},{"k":"3b","i":1,"x":101.4,"y":131},{"k":"3b","i":2,"x":102,"y":121.3},{"k":"3b","i":3,"x":102.6,"y":117},{"k":"3b","i":4,"x":103.7,"y":114.3},{"k":"3b","i":5,"x":105.3,"y":111.3},{"k":"3b","i":6,"x":107.2,"y":109.1},{"k":"3b","i":7,"x":109,"y":107.5},{"k":"3b","i":8,"x":111.2,"y":106.3},{"k":"3b","i":9,"x":114,"y":105},{"k":"3b","i":10,"x":117.6,"y":103.7},{"k":"3b","i":11,"x":122,"y":102.8},{"k":"3b","i":12,"x":126.3,"y":102.2},{"k":"3b","i":13,"x":133,"y":101.9},{"k":"3b","i":14,"x":140.2,"y":101.7},
{"k":"3c","i":0,"x":147.6,"y":99},{"k":"3c","i":1,"x":138,"y":98.6},{"k":"3c","i":2,"x":129.2,"y":98.2},{"k":"3c","i":3,"x":124,"y":97.4},{"k":"3c","i":4,"x":119.9,"y":96.1},{"k":"3c","i":5,"x":115.9,"y":94.2},{"k":"3c","i":6,"x":111.9,"y":91.2},{"k":"3c","i":7,"x":108.9,"y":87.2},{"k":"3c","i":8,"x":106,"y":81.3},{"k":"3c","i":9,"x":104.3,"y":75.6},{"k":"3c","i":10,"x":103.2,"y":69.2},{"k":"3c","i":11,"x":102,"y":64},{"k":"3c","i":12,"x":101.7,"y":59.4},
{"k":"3d","i":0,"x":100.8,"y":49.8},{"k":"3d","i":1,"x":100,"y":49.3},{"k":"3d","i":2,"x":99.2,"y":49.8},{"k":"3d","i":3,"x":98.5,"y":50.7},{"k":"3d","i":4,"x":98.2,"y":57.7},{"k":"3d","i":5,"x":98,"y":63.4},{"k":"3d","i":6,"x":97.3,"y":70.9},{"k":"3d","i":7,"x":96.2,"y":76.8},{"k":"3d","i":8,"x":93.8,"y":82.5},{"k":"3d","i":9,"x":89.9,"y":89.5},{"k":"3d","i":10,"x":85.9,"y":93},{"k":"3d","i":11,"x":79.4,"y":96.4},{"k":"3d","i":12,"x":70.8,"y":98.2},{"k":"3d","i":13,"x":62,"y":98.5},{"k":"3d","i":14,"x":53.4,"y":98.7},{"k":"3d","i":15,"x":50.5,"y":99.2},{"k":"3d","i":16,"x":49.3,"y":100},{"k":"3d","i":17,"x":50.5,"y":100.9},{"k":"3d","i":18,"x":54.6,"y":101.3},{"k":"3d","i":19,"x":62.6,"y":101.6}
],
"lab":[
{"t":"-0.5","x":61,"y":182.3,"a":-9},{"t":"-0.5","x":175.2,"y":174.8,"a":14},
{"t":"-1","x":34.2,"y":154,"a":-28},{"t":"-1","x":108,"y":171.3,"a":3},{"t":"-1","x":178.5,"y":146.2,"a":33},
{"t":"-1.5","x":41.5,"y":133.5,"a":-39},{"t":"-1.5","x":116.3,"y":156.5,"a":19},{"t":"-1.5","x":179.9,"y":108.5,"a":63},{"t":"-1.5","x":176,"y":24.4,"a":-58},{"t":"-1.5","x":20.5,"y":31.3,"a":64},
{"t":"-2","x":54.8,"y":122.2,"a":-42},{"t":"-2","x":118.2,"y":141.3,"a":32},{"t":"-2","x":161.3,"y":84.6,"a":-79},{"t":"-2","x":115.8,"y":27.5,"a":-21},
{"t":"-2.5","x":90.5,"y":132.4,"a":-52},{"t":"-2.5","x":139.6,"y":108.8,"a":30},{"t":"-2.5","x":108.6,"y":51,"a":-38},
{"t":"-3","x":67.8,"y":102,"a":-2},{"t":"-3","x":101.2,"y":144.3,"a":88},{"t":"-3","x":145.5,"y":100.8,"a":3},{"t":"-3","x":102,"y":54.7,"a":-82}
],
"cross":[
{"k":"h","i":0,"x":49.7,"y":100},{"k":"h","i":1,"x":150.5,"y":100},
{"k":"v","i":0,"x":100,"y":49.6},{"k":"v","i":1,"x":100,"y":150.5}
],
"arrow":[
{"k":"a","i":0,"x":204.2,"y":185.4},{"k":"a","i":1,"x":171.3,"y":199.6}
],
"head":[{"x":171.1,"y":199.6}]
},
"layer":[
{"data":{"name":"red"},
 "mark":{"type":"line","color":"#FF0000","strokeWidth":3.6,"interpolate":"catmull-rom"},
 "encoding":{
  "x":{"field":"x","type":"quantitative","title":null,"scale":{"domain":[0,200],"nice":false,"zero":false},"axis":{"orient":"bottom","values":[0,20,40,60,80,100,120,140,160,180,200],"labelPadding":5,"labelFlush":false,"labelOverlap":false}},
  "y":{"field":"y","type":"quantitative","title":null,"scale":{"domain":[0,200],"nice":false,"zero":false},"axis":{"orient":"left","values":[0,20,40,60,80,100,120,140,160,180,200],"labelPadding":3,"labelFlush":false,"labelOverlap":false}},
  "detail":{"field":"k"},
  "order":{"field":"i","type":"quantitative"}}},
{"data":{"name":"blue"},
 "mark":{"type":"line","color":"#0000FF","strokeWidth":3.6,"interpolate":"catmull-rom"},
 "encoding":{
  "x":{"field":"x","type":"quantitative","title":null,"axis":{"orient":"top","values":[0,20,40,60,80,100,120,140,160,180,200],"labels":false}},
  "y":{"field":"y","type":"quantitative","title":null,"axis":{"orient":"right","values":[0,20,40,60,80,100,120,140,160,180,200],"labels":false}},
  "detail":{"field":"k"},
  "order":{"field":"i","type":"quantitative"}}},
{"data":{"name":"cross"},
 "mark":{"type":"line","color":"#000000","strokeWidth":4.5},
 "encoding":{
  "x":{"field":"x","type":"quantitative","axis":null},
  "y":{"field":"y","type":"quantitative","axis":null},
  "detail":{"field":"k"},
  "order":{"field":"i","type":"quantitative"}}},
{"data":{"name":"lab"},
 "mark":{"type":"text","font":"Liberation Sans","fontSize":33,"color":"#0000FF","align":"center","baseline":"middle"},
 "encoding":{
  "x":{"field":"x","type":"quantitative","axis":null},
  "y":{"field":"y","type":"quantitative","axis":null},
  "text":{"field":"t"},
  "angle":{"field":"a","type":"quantitative","scale":null}}},
{"data":{"name":"arrow"},
 "mark":{"type":"line","color":"#008080","strokeWidth":3.5,"clip":false},
 "encoding":{
  "x":{"field":"x","type":"quantitative","axis":null},
  "y":{"field":"y","type":"quantitative","axis":null},
  "order":{"field":"i","type":"quantitative"}}},
{"data":{"name":"head"},
 "mark":{"type":"point","shape":"triangle-up","filled":true,"color":"#008080","opacity":1,"size":230,"angle":294,"clip":false},
 "encoding":{
  "x":{"field":"x","type":"quantitative","axis":null},
  "y":{"field":"y","type":"quantitative","axis":null}}}
],
"resolve":{"axis":{"x":"independent","y":"independent"}}
}
